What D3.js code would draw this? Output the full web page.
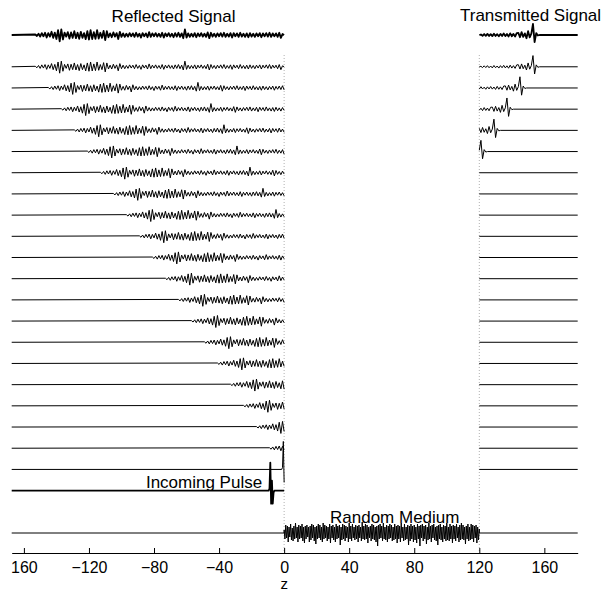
<!DOCTYPE html>
<html>
<head>
<meta charset="utf-8">
<script src="https://cdn.jsdelivr.net/npm/d3@7"></script>
<style>
    body { margin: 0; background: #fff; }
    svg text { font-family: "Liberation Sans", Arial, Helvetica, sans-serif; fill: #000; }
</style>
</head>
<body>
<div id="chart"></div>
<script>
// ---- data ----
var tickValues = [-160, -120, -80, -40, 0, 40, 80, 120, 160];
var tickLabels = ["160", "\u2212120", "\u221280", "\u221240", "0", "40", "80", "120", "160"];

// snapshot rows (time steps), bottom = 0, top = 19
var snapshotTimes = [0, 1, 2, 3, 4, 5, 6, 7, 8, 9, 10, 11, 12, 13, 14, 15, 16, 17, 18, 19];
var incomingTime = -1;
var speed = 8;            // z units travelled per snapshot
var mediumStart = 0, mediumEnd = 120;
var exitTime = 15, exitPos = 121;   // transmitted pulse at z=121 in snapshot 15

// reflected waveform, one sample per z unit behind the front (positive = up)
var reflected = [
    0.3, -0.6, 0.8, -1, 1.2, -0.8, 1.4, -1.6, 1.2, -1, 2, -1.8, 1.5,
    -2.5, 3, -4, 3.5, -2.8, 1.5,
    -1, 1.8, -2.2, 1.6, -1.8, 2.4, -2, 1.4, -2.4, 2, -1.8, 1.2,
    -2.6, 2.4, -2.8, 3, -2.6, 1.8, -2.4, 3, -2.2, 1.4, -1.8, 2.6, -3.2, 2.4, -1.4,
    1, -1.4, 1.6, -1, 1.2,
    -2.5, 2, -1.2,
    1, -1.2, 0.8, -1, 1.2, -0.8, 1, -1.2, 1.4, -1, 0.8, -1.6, 1.2, -0.8, 1, -1.4, 1.8, -1.2, 1, -0.8,
    1.2, -1, 0.8, -1.2, 1.4, -1.6, 1, -0.8, 1.2, -1, 0.8, -1.4, 1.2, -1, 1.4, -1.2, 1,
    -2, 3.5, -1.6,
    1, -1.2, 0.8, -1, 1.2, -1.4, 1, -0.8, 1.2, -1, 0.8, -1.2, 1.6, -2, 1.4, -1, 0.8, -1.2, 1, -0.8,
    1.2, -1, 1.4, -1.2, 0.8, -1, 1.2, -1.6, 1.2, -0.8, 1, -1.2, 1.4, -1, 0.8, -1.2, 1, -1.4, 1.2, -1,
    0.8, -1.2, 1, -0.8, 1.2, -1.4, 1, -0.8, 1.2, -1, 1.4, -1.2, 1, -0.8, 1, -1.2, 1.4, -1.8, 0.6
];

// transmitted waveform, one sample per z unit, from 32 behind the pulse to 4 ahead
var transStart = -32;
var transmitted = [
    0.3, -0.5, 0.6, -0.5, 0.7, -0.6, 0.5, -0.7, 0.8, -0.6, 0.5, -0.8, 0.7, -0.6, 0.9, -0.7,
    0.6, -0.9, 1, -0.8, 0.7, -1, 1.2,
    1.3, -1.4, 1.8, -1.2, 1, -2, 2.4, -1.5, 0.8,
    7, -4.5, 1.2, -0.3, 0
];

// incoming pulse, half z unit steps from -1.5 to 2
var pulseStart = -1.5, pulseStep = 0.5;
var pulse = [0, 2, 28, -13, 10, -13, -2, 0];

// random medium fluctuations, half z unit steps from 0 to 120
var mediumStep = 0.5;
var medium = [
    3, -6, 8, -5, 7, -9, 6, -4, 9, -7, 5, -8, 7, -6, 10, -5, 6, -9, 8, -6,
    7, -5, 9, -8, 6, -10, 7, -6, 8, -4, 6, -9, 7, -7, 9, -5, 8, -8, 6, -11,
    7, -6, 9, -5, 8, -7, 6, -9, 10, -6, 8, -5, 7, -8, 6, -6, 9, -10, 7, -5,
    8, -7, 6, -9, 9, -6, 7, -5, 8, -12, 6, -7, 9, -6, 8, -8, 7, -5, 6, -9,
    10, -6, 7, -8, 9, -5, 6, -7, 8, -6, 7, -9, 8, -5, 6, -8, 11, -6, 7, -7,
    9, -6, 8, -10, 6, -5, 7, -8, 9, -6, 8, -7, 6, -9, 7, -13, 8, -6, 9, -5,
    7, -8, 10, -6, 6, -7, 8, -9, 7, -6, 9, -5, 8, -8, 6, -7, 9, -6, 7, -10,
    8, -6, 7, -9, 10, -5, 6, -8, 9, -7, 6, -6, 8, -12, 7, -8, 9, -6, 7, -9,
    8, -7, 6, -10, 9, -6, 7, -13, 8, -5, 9, -8, 7, -6, 8, -11, 6, -7, 10, -6,
    7, -9, 8, -5, 9, -7, 6, -8, 7, -12, 8, -6, 9, -7, 6, -9, 8, -6, 7, -8,
    10, -7, 6, -8, 9, -6, 7, -10, 8, -6, 7, -8, 9, -5, 6, -9, 8, -7, 10, -6,
    8, -7, 6, -11, 7, -6, 9, -8, 6, -7, 9, -6, 8, -9, 7, -5, 8, -10, 6, -7,
    4
];

// ---- chart ----
var width = 602, height = 592;
var zMin = -167.5, zMax = 180.5;

var svg = d3.select('#chart').append('svg')
    .attr('width', width)
    .attr('height', height);

var x = d3.scaleLinear().domain([zMin, zMax]).range([11.7, 577.7]);
var yRow = d3.scaleLinear().domain([-3, 20.5]).range([533, 35]);
// pulse / medium amplitude, and the (weaker) scattered waves drawn with more gain
var amp = d3.scaleLinear().domain([-1, 1]).range([1, -1]);
var waveAmp = d3.scaleLinear().domain([-1, 1]).range([1.6, -1.6]);

var summaryRow = 20.5, mediumRow = -3;

function leftTrace(t) {
    var pts = [{ z: zMin, v: 0, w: 0 }];
    if (t >= 1) {
        var front = -speed * t - 1;
        for (var s = 0; front + s <= 0; s++) {
            pts.push({ z: front + s, v: 0, w: s < reflected.length ? reflected[s] : 0 });
        }
    } else {
        var c = speed * t;
        for (var i = 0; i < pulse.length; i++) {
            var z = c + pulseStart + i * pulseStep;
            if (z <= mediumStart) pts.push({ z: z, v: pulse[i], w: 0 });
        }
        if (pts[pts.length - 1].z < mediumStart) pts.push({ z: mediumStart, v: 0, w: 0 });
    }
    return pts;
}

function rightTrace(t) {
    var pts = [];
    var c = exitPos + speed * (t - exitTime);
    for (var i = 0; i < transmitted.length; i++) {
        var z = c + transStart + i;
        if (z >= mediumEnd) pts.push({ z: z, v: 0, w: transmitted[i] });
    }
    if (!pts.length || pts[0].z > mediumEnd) pts.unshift({ z: mediumEnd, v: 0, w: 0 });
    pts.push({ z: zMax, v: 0, w: 0 });
    return pts;
}

function mediumTrace() {
    var pts = [{ z: zMin, v: 0, w: 0 }, { z: mediumStart, v: 0, w: 0 }];
    medium.forEach(function(v, i) {
        pts.push({ z: mediumStart + i * mediumStep, v: v, w: 0 });
    });
    pts.push({ z: mediumEnd, v: 0, w: 0 });
    pts.push({ z: zMax, v: 0, w: 0 });
    return pts;
}

function lineAt(row) {
    return d3.line()
        .x(function(d) { return x(d.z); })
        .y(function(d) { return yRow(row) + amp(d.v) + waveAmp(d.w); });
}

// dotted boundaries of the medium
svg.selectAll('.boundary')
    .data([mediumStart, mediumEnd])
    .enter().append('line')
    .attr('class', 'boundary')
    .attr('x1', function(d) { return x(d); })
    .attr('x2', function(d) { return x(d); })
    .attr('y1', 55)
    .attr('y2', 553)
    .style('stroke', '#b0b0b0')
    .style('stroke-width', 1)
    .style('stroke-dasharray', '1,2');

var traces = svg.append('g').attr('class', 'traces')
    .style('fill', 'none')
    .style('stroke', '#000')
    .style('stroke-linejoin', 'round');

// snapshot rows
snapshotTimes.forEach(function(t) {
    traces.append('path').attr('d', lineAt(t)(leftTrace(t))).style('stroke-width', 1);
    traces.append('path').attr('d', lineAt(t)(rightTrace(t))).style('stroke-width', 1);
});

// summary row at top (latest snapshot, bold)
var last = snapshotTimes[snapshotTimes.length - 1];
traces.append('path').attr('d', lineAt(summaryRow)(leftTrace(last))).style('stroke-width', 1.8);
traces.append('path').attr('d', lineAt(summaryRow)(rightTrace(last))).style('stroke-width', 1.8);

// incoming pulse row (bold)
traces.append('path').attr('d', lineAt(incomingTime)(leftTrace(incomingTime))).style('stroke-width', 1.8);

// random medium row
traces.append('path').attr('d', lineAt(mediumRow)(mediumTrace())).style('stroke-width', 1);

// axis
var axis = d3.axisBottom(x)
    .tickValues(tickValues)
    .tickFormat(function(d, i) { return tickLabels[i]; })
    .tickSizeInner(-5)
    .tickSizeOuter(0)
    .tickPadding(8.5);

var gAxis = svg.append('g')
    .attr('transform', 'translate(0,553)')
    .call(axis);
gAxis.selectAll('text').style('font-size', '16px');
gAxis.select('.domain').style('stroke', '#000');
gAxis.selectAll('.tick line').style('stroke', '#000');

svg.append('text')
    .attr('x', x(0))
    .attr('y', 589)
    .attr('text-anchor', 'middle')
    .style('font-size', '15px')
    .text('z');

// labels
var labels = [
    { text: 'Reflected Signal', z: -68, row: summaryRow, dy: -13, anchor: 'middle' },
    { text: 'Transmitted Signal', z: 151.5, row: summaryRow, dy: -14, anchor: 'middle' },
    { text: 'Incoming Pulse', z: -13.5, row: incomingTime, dy: -3, anchor: 'end' },
    { text: 'Random Medium', z: 68, row: mediumRow, dy: -10, anchor: 'middle' }
];

svg.selectAll('.label')
    .data(labels)
    .enter().append('text')
    .attr('class', 'label')
    .attr('x', function(d) { return x(d.z); })
    .attr('y', function(d) { return yRow(d.row) + d.dy; })
    .attr('text-anchor', function(d) { return d.anchor; })
    .style('font-size', '17px')
    .text(function(d) { return d.text; });
</script>
</body>
</html>
